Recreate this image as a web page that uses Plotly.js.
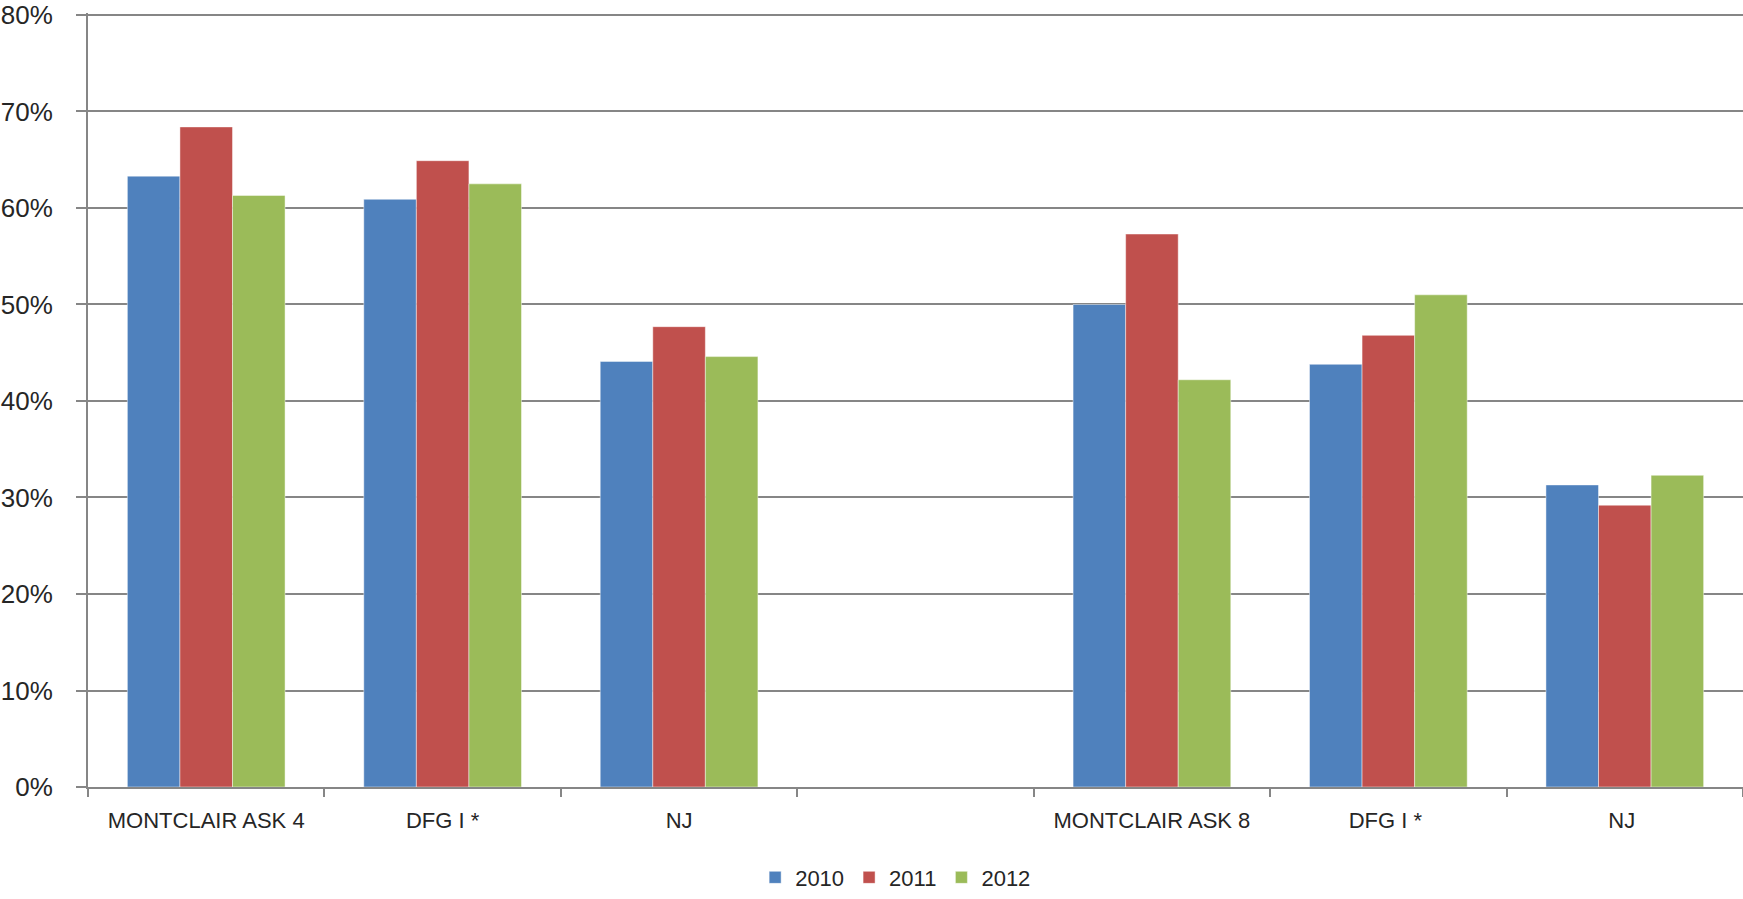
<!DOCTYPE html>
<html>
<head>
<meta charset="utf-8">
<script src="https://cdn.plot.ly/plotly-3.0.1.min.js"></script>
<style>
html,body{margin:0;padding:0;background:#fff;}
#chart{width:1743px;height:899px;}
</style>
</head>
<body>
<div id="chart"></div>
<script>
// Category keys (unique) and the labels shown on the axis
var categories = ["MONTCLAIR ASK 4", "DFG I *", "NJ", "\u00a0", "MONTCLAIR ASK 8", "DFG I * ", "NJ "];
var years = ["2010", "2011", "2012"];
var values2010 = [0.633, 0.609, 0.441, null, 0.500, 0.438, 0.313];
var values2011 = [0.684, 0.649, 0.477, null, 0.573, 0.468, 0.292];
var values2012 = [0.613, 0.625, 0.446, null, 0.422, 0.510, 0.323];
var yTicks = [0, 0.1, 0.2, 0.3, 0.4, 0.5, 0.6, 0.7, 0.8];
var colors = ["#4F81BD", "#C0504D", "#9BBB59"];

var series = [values2010, values2011, values2012];
var traces = series.map(function (vals, i) {
  return {
    type: "bar",
    name: years[i],
    x: categories,
    y: vals,
    marker: {color: colors[i], line: {color: "rgba(255,255,255,0.45)", width: 1}},
    hoverinfo: "x+y+name"
  };
});

var gray = "#868686";
var layout = {
  width: 1743,
  height: 899,
  margin: {l: 88, r: 0, t: 13, b: 105},
  paper_bgcolor: "#ffffff",
  plot_bgcolor: "#ffffff",
  barmode: "group",
  bargap: 0.333,
  bargroupgap: 0,
  font: {family: "Liberation Sans, Arial, sans-serif", color: "#262626"},
  xaxis: {
    type: "category",
    categoryorder: "array",
    categoryarray: categories,
    range: [-0.5, 6.5],
    tickson: "boundaries",
    ticks: "outside",
    ticklen: 8,
    tickwidth: 2,
    tickcolor: gray,
    showline: true,
    linecolor: gray,
    linewidth: 2,
    showgrid: false,
    zeroline: false,
    tickfont: {size: 22, color: "#262626"},
    ticklabelstandoff: 13,
    fixedrange: true
  },
  yaxis: {
    range: [0, 0.80205],
    tickmode: "array",
    tickvals: yTicks,
    tickformat: ".0%",
    ticks: "outside",
    ticklen: 10,
    tickwidth: 2,
    tickcolor: gray,
    showline: true,
    linecolor: gray,
    linewidth: 2,
    showgrid: true,
    gridcolor: gray,
    gridwidth: 2,
    zeroline: false,
    tickfont: {size: 26, color: "#262626"},
    ticklabelstandoff: 18,
    ticklabeloverflow: "allow",
    fixedrange: true
  },
  showlegend: true,
  legend: {
    orientation: "h",
    x: 0.488,
    xanchor: "center",
    y: -0.117,
    yanchor: "middle",
    font: {size: 22, color: "#262626"},
    itemclick: false,
    itemdoubleclick: false
  }
};

Plotly.newPlot("chart", traces, layout, {displayModeBar: false});
</script>
</body>
</html>
